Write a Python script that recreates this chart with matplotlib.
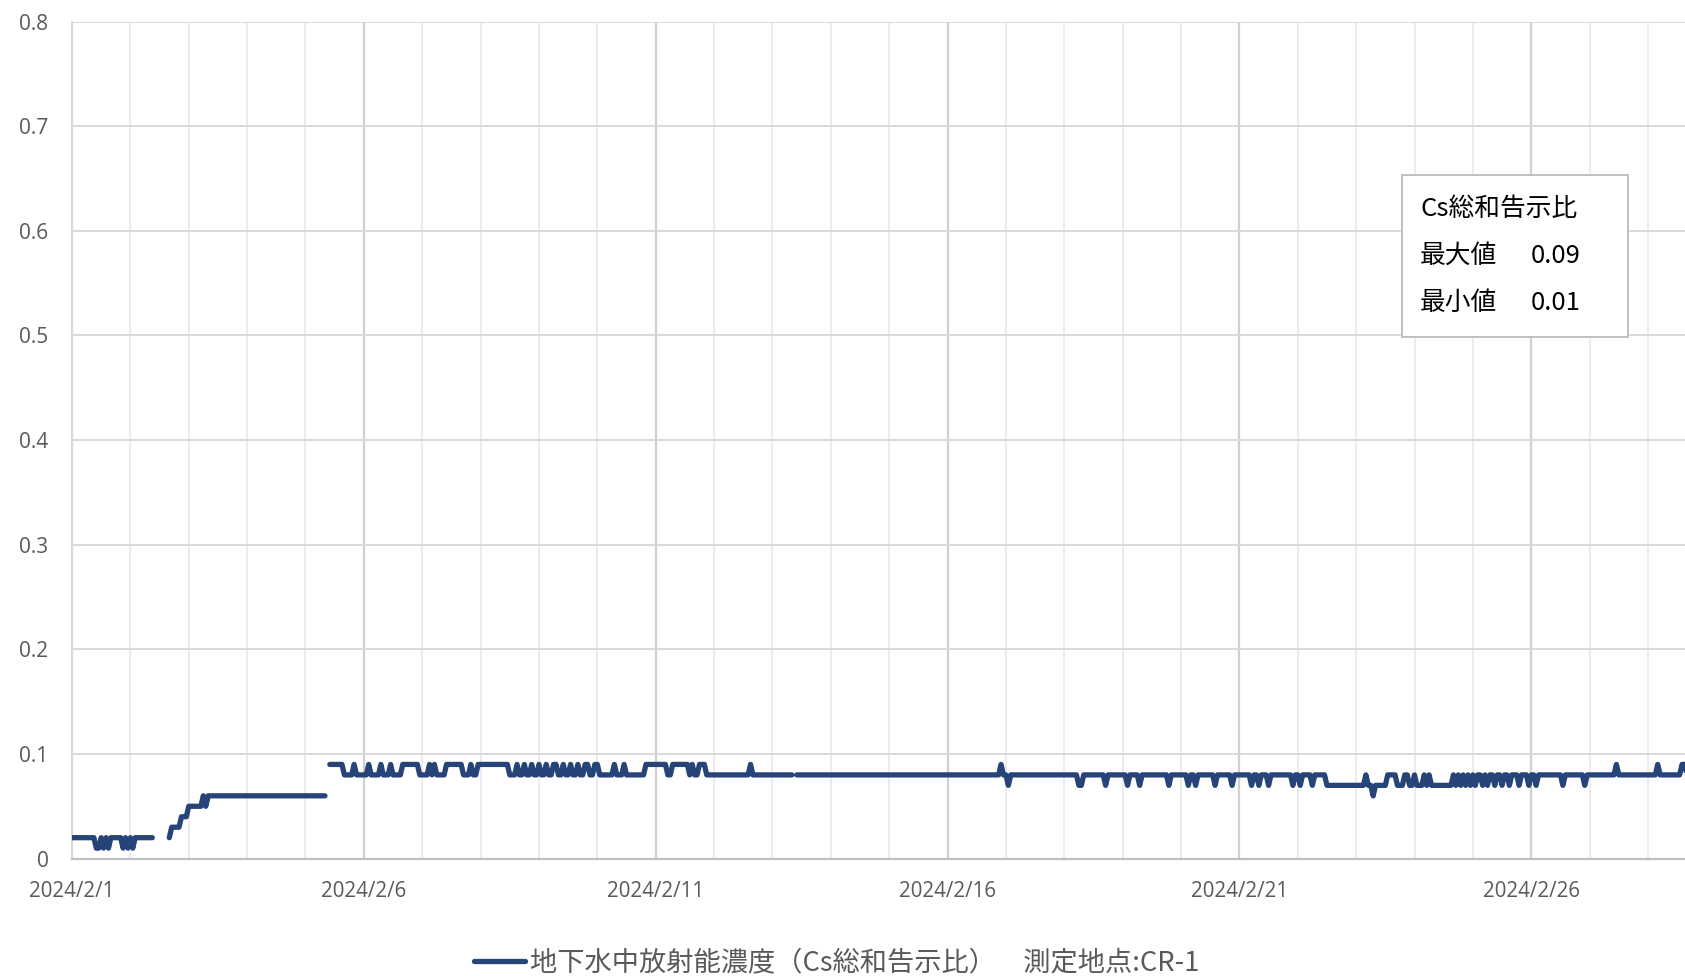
import numpy as np
import pandas as pd
import matplotlib
matplotlib.use("Agg")
import matplotlib.pyplot as plt
import matplotlib.dates as mdates
from matplotlib.patches import Rectangle
from matplotlib.lines import Line2D

# ---------------- data ----------------
# hourly readings in hundredths of the Cs sum ratio, one string per day,
# starting 2024/2/1 00:00 ('-' = no data)
day_readings = [
    "222222222211212122222121",  # 2/1
    "2122222222------23333444",  # 2/2
    "555555656666666666666666",  # 2/3
    "666666666666666666666666",  # 2/4
    "666666666-99999988889888",  # 2/5
    "889888898889888899999998",  # 2/6
    "888989888899999998889889",  # 2/7
    "999999999999888988988988",  # 2/8
    "988988998898898898899889",  # 2/9
    "988888898889888888889999",  # 2/10
    "999998899999998988999888",  # 2/11
    "888888888888888988888888",  # 2/12
    "888888888-88888888888888",  # 2/13
    "888888888888888888888888",  # 2/14
    "888888888888888888888888",  # 2/15
    "888888888888888888888898",  # 2/16
    "878888888888888888888888",  # 2/17
    "888888778888888887888888",  # 2/18
    "887888878888888888878888",  # 2/19
    "888788788888887888888788",  # 2/20
    "888887887888788888888878",  # 2/21
    "878888788888777777777777",  # 2/22
    "777787767777788887778877",  # 2/23
    "877787877777777787878787",  # 2/24
    "878878788788788788878887",  # 2/25
    "887888888888878888888878",  # 2/26
    "888888888889888888888888",  # 2/27
    "88889888888888998",         # 2/28
]
start_time = "2024-02-01 00:00"
y_ticks = [0, 0.1, 0.2, 0.3, 0.4, 0.5, 0.6, 0.7, 0.8]
y_tick_labels = ["0", "0.1", "0.2", "0.3", "0.4", "0.5", "0.6", "0.7", "0.8"]
x_tick_dates = ["2024-02-01", "2024-02-06", "2024-02-11", "2024-02-16", "2024-02-21", "2024-02-26"]
x_tick_labels = ["2024/2/1", "2024/2/6", "2024/2/11", "2024/2/16", "2024/2/21", "2024/2/26"]
series_label = "地下水中放射能濃度（Cs総和告示比）　測定地点:CR-1"
box_title = "Cs総和告示比"
stat_names = ["最大値", "最小値"]
stat_values = ["0.09", "0.01"]

values = []
for s in day_readings:
    for ch in s:
        values.append(np.nan if ch == "-" else int(ch) / 100.0)
values = np.array(values)
times = pd.date_range(start_time, periods=len(values), freq="h")

# ---------------- style ----------------
plt.rcParams["font.family"] = ["Noto Sans CJK JP", "DejaVu Sans"]
W, H = 1685, 976
line_color = "#264478"
text_grey = "#595959"

fig = plt.figure(figsize=(W / 100, H / 100), dpi=100)
ax_left, ax_bottom_px, ax_top_px = 72, 858.6, 21.5
ax = fig.add_axes([ax_left / W, 1 - ax_bottom_px / H, 1 - ax_left / W,
                   (ax_bottom_px - ax_top_px) / H])

ax.plot(times, values, color=line_color, lw=3.8, solid_capstyle="round",
        solid_joinstyle="round", zorder=3, clip_on=True)

t0 = pd.Timestamp(start_time)
ax.set_xlim(t0, t0 + pd.Timedelta(days=27.634))
ax.set_ylim(0, 0.8)

ax.set_yticks(y_ticks)
ax.set_yticklabels(y_tick_labels, fontfamily="Open Sans", fontsize=15, color=text_grey)
ax.set_xticks(pd.to_datetime(x_tick_dates))
ax.set_xticklabels(x_tick_labels, fontfamily="Open Sans", fontsize=14.8, color=text_grey)
ax.xaxis.set_minor_locator(mdates.DayLocator())
ax.tick_params(axis="both", which="both", length=0)
ax.tick_params(axis="y", pad=17)
ax.tick_params(axis="x", pad=16)

ax.set_axisbelow(True)
ax.grid(axis="y", which="major", color="#d9d9d9", lw=1.4)
ax.grid(axis="x", which="major", color="#d0d0d0", lw=1.6)
ax.grid(axis="x", which="minor", color="#ebebeb", lw=1.3)

for side in ["top", "right"]:
    ax.spines[side].set_visible(False)
ax.spines["left"].set_color("#d9d9d9")
ax.spines["left"].set_linewidth(1.4)
ax.spines["bottom"].set_color("#bfbfbf")
ax.spines["bottom"].set_linewidth(1.6)

# ---------------- annotation box ----------------
bx0, by0, bx1, by1 = 1401.5, 175, 1628, 337
fig.patches.append(Rectangle((bx0 / W, 1 - by1 / H), (bx1 - bx0) / W, (by1 - by0) / H,
                             transform=fig.transFigure, facecolor="white",
                             edgecolor="#bfbfbf", lw=1.4, zorder=5))
fs_box = 18.5
fig.text(1420 / W, 1 - 209 / H, box_title, fontsize=fs_box, color="black",
         va="center", ha="left", zorder=6)
for i, (nm, val) in enumerate(zip(stat_names, stat_values)):
    yc = [256, 303][i]
    fig.text(1420 / W, 1 - yc / H, nm, fontsize=fs_box, color="black",
             va="center", ha="left", zorder=6)
    fig.text(1531 / W, 1 - yc / H, val, fontsize=fs_box, color="black",
             va="center", ha="left", zorder=6)

# ---------------- legend ----------------
handle = Line2D([0], [0], color=line_color, lw=3.8, solid_capstyle="round")
leg = fig.legend([handle], [series_label], loc="center",
                 bbox_to_anchor=(837 / W, 1 - 963 / H), frameon=False,
                 fontsize=19.6, handlelength=1.85, handletextpad=0.2,
                 borderpad=0, borderaxespad=0)
for t in leg.get_texts():
    t.set_color(text_grey)

fig.savefig("out.png", dpi=100)
